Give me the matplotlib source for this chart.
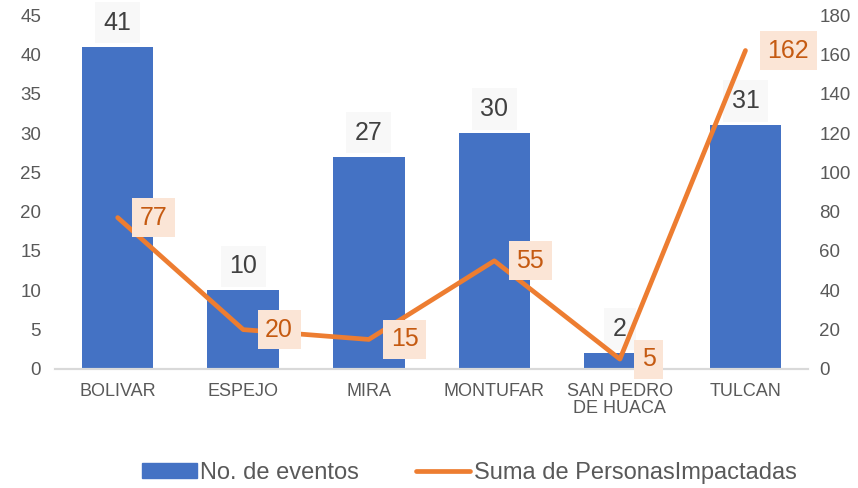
import matplotlib
matplotlib.use('Agg')
import matplotlib.pyplot as plt
import numpy as np
from matplotlib.patches import Patch
from matplotlib.lines import Line2D

categories = ['BOLIVAR', 'ESPEJO', 'MIRA', 'MONTUFAR', 'SAN PEDRO\nDE HUACA', 'TULCAN']
eventos = [41, 10, 27, 30, 2, 31]
personas = [77, 20, 15, 55, 5, 162]

blue = '#4472C4'
orange = '#ED7D31'
grey_txt = '#595959'

plt.rcParams['font.family'] = ['Liberation Sans', 'DejaVu Sans']

fig = plt.figure(figsize=(8.58, 4.88), dpi=100)
ax = fig.add_axes([0.064, 0.244, 0.878, 0.725])
ax2 = ax.twinx()

x = np.arange(len(categories))
bars = ax.bar(x, eventos, width=0.57, color=blue, zorder=2)
ax.set_xlim(-0.5, len(categories) - 0.5)
ax.set_ylim(0, 45)
ax.set_yticks(np.arange(0, 46, 5))
ax.set_xticks(x)
ax.set_xticklabels(categories, fontsize=13, color=grey_txt, linespacing=1.05)
ax.tick_params(axis='y', length=0, labelsize=13.5, colors=grey_txt, pad=10)
ax.tick_params(axis='x', length=0, colors=grey_txt, pad=10)

ax2.set_ylim(0, 180)
ax2.set_yticks(np.arange(0, 181, 20))
ax2.tick_params(axis='y', length=0, labelsize=13.5, colors=grey_txt, pad=8)

for a in (ax, ax2):
    for s in ('top', 'left', 'right'):
        a.spines[s].set_visible(False)
    a.spines['bottom'].set_color('#d9d9d9')
    a.spines['bottom'].set_linewidth(1.5)

# bar value labels
for xi, v in zip(x, eventos):
    ax.annotate(str(v), (xi, v), xytext=(0, 24), textcoords='offset pixels',
                ha='center', va='center', fontsize=18, color='#404040', zorder=5,
                bbox=dict(boxstyle='square,pad=0.35', fc='#f8f8f8', ec='none'))

ax2.plot(x, personas, color=orange, lw=3.4, solid_capstyle='round',
         solid_joinstyle='round', zorder=3)

# line value labels
for xi, v in zip(x, personas):
    ax2.annotate(str(v), (xi, v), xytext=(22, 0), textcoords='offset pixels',
                 ha='left', va='center', fontsize=18, color='#C55A11', zorder=6,
                 bbox=dict(boxstyle='square,pad=0.3', fc='#FBE5D6', ec='none'))

handles = [Patch(color=blue, label='No. de eventos'),
           Line2D([0], [0], color=orange, lw=3.4, solid_capstyle='round',
                  label='Suma de PersonasImpactadas')]
fig.legend(handles=handles, loc='lower center', bbox_to_anchor=(0.547, -0.035),
           ncol=2, frameon=False, fontsize=17, labelcolor=grey_txt,
           handlelength=2.3, handleheight=0.6, handletextpad=0.15, columnspacing=2.4)

fig.savefig('out.png', dpi=100)
